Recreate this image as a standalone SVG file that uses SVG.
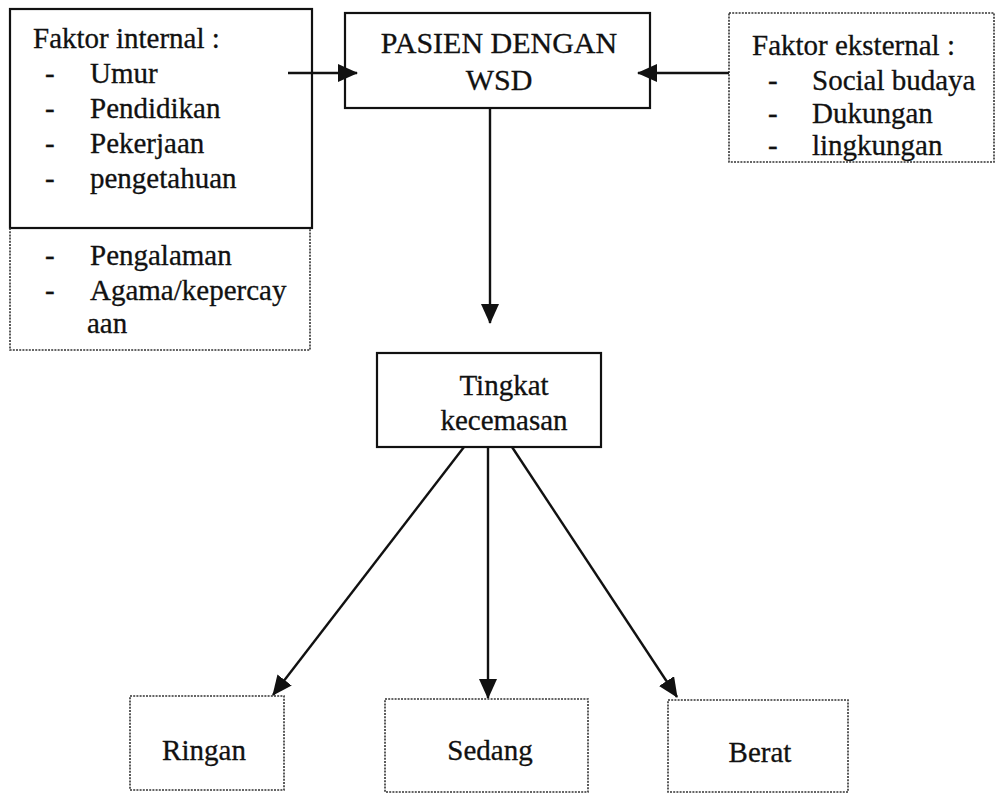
<svg xmlns="http://www.w3.org/2000/svg" width="997" height="796" viewBox="0 0 997 796">
<style>
text{font-family:"Liberation Serif","Times New Roman",serif;font-size:29px;fill:#111;stroke:#111;stroke-width:0.3}
.solid{fill:none;stroke:#111;stroke-width:2.2}
.dot{fill:none;stroke:#333;stroke-width:1.6;stroke-dasharray:2 1.2}
.conn{stroke:#111;stroke-width:2.4;fill:none}
</style>
<defs>
<marker id="ah" markerWidth="20" markerHeight="18" refX="19" refY="9" orient="auto" markerUnits="userSpaceOnUse">
<path d="M0,0 L20,9 L0,18 z" fill="#111"/>
</marker>
</defs>
<rect width="997" height="796" fill="#fff"/>
<g id="internal">
<rect class="solid" x="10" y="9" width="302" height="219"/>
<path class="dot" d="M10,228 V350 H310 V228"/>
<text x="33" y="48">Faktor internal :</text>
<text x="45" y="83">-</text><text x="90" y="83">Umur</text>
<text x="45" y="118">-</text><text x="90" y="118">Pendidikan</text>
<text x="45" y="153">-</text><text x="90" y="153">Pekerjaan</text>
<text x="45" y="188">-</text><text x="90" y="188">pengetahuan</text>
<text x="45" y="265">-</text><text x="90" y="265">Pengalaman</text>
<text x="45" y="300">-</text><text x="90" y="300">Agama/kepercay</text>
<text x="87" y="333">aan</text>
</g>
<g id="pasien">
<rect class="solid" x="345" y="13" width="305" height="95"/>
<text x="499" y="53" text-anchor="middle" style="font-size:30px">PASIEN DENGAN</text>
<text x="499" y="90" text-anchor="middle" style="font-size:30px">WSD</text>
</g>
<g id="eksternal">
<rect class="dot" x="729" y="13" width="265" height="149"/>
<text x="752" y="55">Faktor eksternal :</text>
<text x="768" y="90">-</text><text x="812" y="90">Social budaya</text>
<text x="768" y="123">-</text><text x="812" y="123">Dukungan</text>
<text x="768" y="155">-</text><text x="812" y="155">lingkungan</text>
</g>
<g id="tingkat">
<rect class="solid" x="377" y="353" width="224" height="94"/>
<text x="504" y="395" text-anchor="middle">Tingkat</text>
<text x="504" y="430" text-anchor="middle">kecemasan</text>
</g>
<g id="ringan">
<rect class="dot" x="130" y="696" width="154" height="94"/>
<text x="204" y="760" text-anchor="middle">Ringan</text>
</g>
<g id="sedang">
<rect class="dot" x="385" y="699" width="203" height="93"/>
<text x="490" y="760" text-anchor="middle">Sedang</text>
</g>
<g id="berat">
<rect class="dot" x="668" y="700" width="180" height="92"/>
<text x="760" y="762" text-anchor="middle">Berat</text>
</g>
<g id="connectors">
<line class="conn" x1="288" y1="73" x2="357" y2="73" marker-end="url(#ah)"/>
<line class="conn" x1="729" y1="73" x2="638" y2="73" marker-end="url(#ah)"/>
<line class="conn" x1="490" y1="108" x2="490" y2="323" marker-end="url(#ah)"/>
<line class="conn" x1="464" y1="447" x2="273" y2="695" marker-end="url(#ah)"/>
<line class="conn" x1="488" y1="447" x2="488" y2="698" marker-end="url(#ah)"/>
<line class="conn" x1="512" y1="447" x2="677" y2="697" marker-end="url(#ah)"/>
</g>
</svg>
